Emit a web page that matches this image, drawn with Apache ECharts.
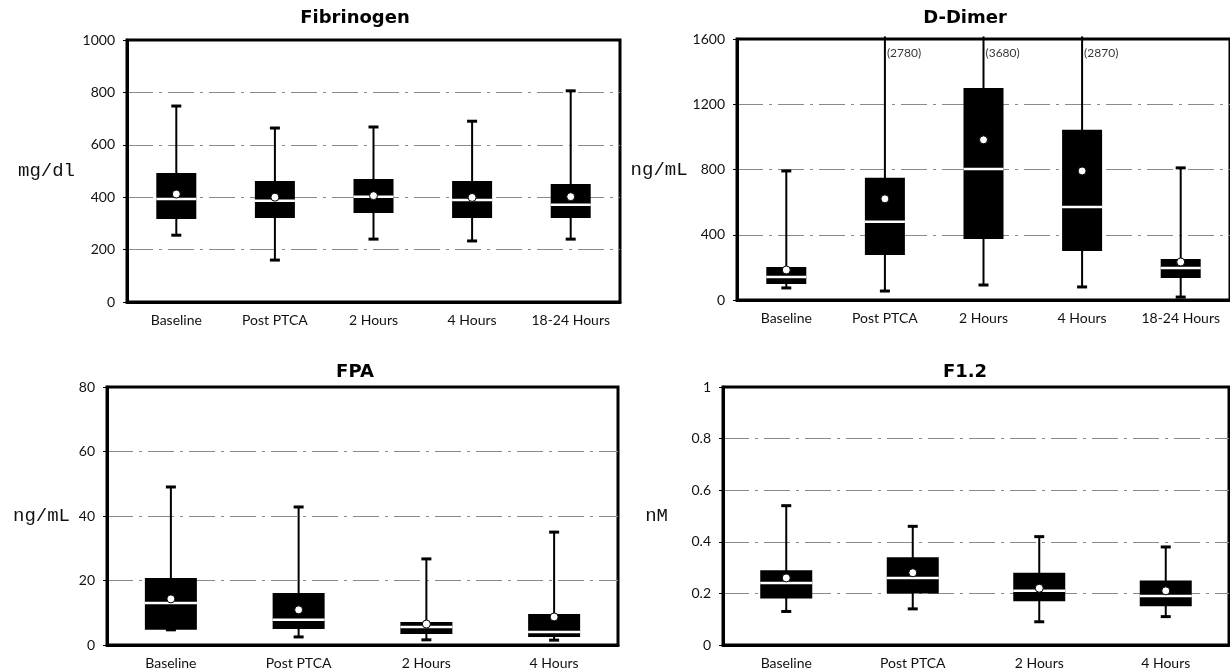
<!DOCTYPE html>
<html>
<head>
<meta charset="utf-8">
<script src="https://cdn.jsdelivr.net/npm/echarts@6/dist/echarts.min.js"></script>
<style>
html,body{margin:0;padding:0;background:#fff;}
#chart{width:1230px;height:672px;}
</style>
</head>
<body>
<div id="chart"></div>
<script>
// ---------- Data ----------
const catsFive = ['Baseline', 'Post PTCA', '2 Hours', '4 Hours', '18-24 Hours'];
const catsFour = ['Baseline', 'Post PTCA', '2 Hours', '4 Hours'];

// Fibrinogen (mg/dl)
const fibMin    = [255, 160, 240, 233, 240];
const fibQ1     = [317, 321, 340, 321, 321];
const fibMedian = [393, 386, 402, 389, 371];
const fibQ3     = [492, 462, 469, 462, 450];
const fibMax    = [748, 664, 668, 690, 806];
const fibMean   = [412, 400, 406, 399, 402];
const fibTicks  = [0, 200, 400, 600, 800, 1000];

// D-Dimer (ng/mL)
const ddMin    = [74, 55, 92, 80, 18];
const ddQ1     = [98, 276, 374, 301, 135];
const ddMedian = [141, 479, 803, 570, 196];
const ddQ3     = [202, 749, 1300, 1043, 252];
const ddMax    = [791, 2780, 3680, 2870, 810];
const ddMean   = [184, 620, 982, 791, 233];
const ddTicks  = [0, 400, 800, 1200, 1600];

// FPA (ng/mL)
const fpaMin    = [4.7, 2.5, 1.6, 1.5];
const fpaQ1     = [4.7, 5.0, 3.4, 2.5];
const fpaMedian = [13.0, 7.8, 5.6, 4.0];
const fpaQ3     = [20.8, 16.1, 7.1, 9.6];
const fpaMax    = [49.0, 42.8, 26.7, 35.0];
const fpaMean   = [14.3, 10.9, 6.5, 8.7];
const fpaTicks  = [0, 20, 40, 60, 80];

// F1.2 (nM)
const f12Min    = [0.13, 0.14, 0.09, 0.11];
const f12Q1     = [0.18, 0.20, 0.17, 0.15];
const f12Median = [0.24, 0.26, 0.21, 0.19];
const f12Q3     = [0.29, 0.34, 0.28, 0.25];
const f12Max    = [0.54, 0.46, 0.42, 0.38];
const f12Mean   = [0.26, 0.28, 0.22, 0.21];
const f12Ticks  = [0, 0.2, 0.4, 0.6, 0.8, 1];

// ---------- Helpers ----------
function boxData(mins, q1s, meds, q3s, maxs, axisMax) {
  return mins.map((v, i) => {
    const hi = maxs[i] > axisMax ? axisMax * 1.01 : maxs[i];
    const capped = maxs[i] > axisMax ? 0 : 1;
    return [i, v, q1s[i], meds[i], q3s[i], hi, capped];
  });
}

function boxRenderer(boxWidth) {
  return function (params, api) {
    const i = api.value(0);
    const lo = api.coord([i, api.value(1)]);
    const q1 = api.coord([i, api.value(2)]);
    const md = api.coord([i, api.value(3)]);
    const q3 = api.coord([i, api.value(4)]);
    const hi = api.coord([i, api.value(5)]);
    const hasTopCap = api.value(6) === 1;
    const cx = lo[0];
    const hw = boxWidth / 2;
    const capHalf = 5;
    const children = [
      { type: 'line', shape: { x1: cx, y1: lo[1], x2: cx, y2: hi[1] },
        style: { stroke: '#000', lineWidth: 2 } },
      { type: 'line', shape: { x1: cx - capHalf, y1: lo[1], x2: cx + capHalf, y2: lo[1] },
        style: { stroke: '#000', lineWidth: 3 } }
    ];
    if (hasTopCap) {
      children.push({ type: 'line', shape: { x1: cx - capHalf, y1: hi[1], x2: cx + capHalf, y2: hi[1] },
        style: { stroke: '#000', lineWidth: 3 } });
    }
    children.push({ type: 'rect', shape: { x: cx - hw, y: q3[1], width: boxWidth, height: q1[1] - q3[1] },
      style: { fill: '#000' } });
    children.push({ type: 'line', shape: { x1: cx - hw, y1: md[1], x2: cx + hw, y2: md[1] },
      style: { stroke: '#fff', lineWidth: 2.5 } });
    return { type: 'group', children: children };
  };
}

const gridLineStyle = { color: '#8a8a8a', width: 1, type: [26, 6, 3, 6] };
const tickFont = { fontFamily: 'Lato', fontSize: 14, color: '#111' };
const catFont = { fontFamily: 'Lato', fontSize: 14, color: '#111' };
const nameFont = { fontFamily: 'Liberation Mono', fontSize: 19, color: '#111' };
const titleFont = { fontFamily: 'DejaVu Sans', fontWeight: 'bold', fontSize: 18, color: '#000' };

function yAxisDef(idx, ticks, name, nameGap, decimals) {
  return {
    gridIndex: idx, type: 'value',
    min: ticks[0], max: ticks[ticks.length - 1],
    interval: ticks[1] - ticks[0],
    name: name, nameLocation: 'middle', nameRotate: 0, nameGap: nameGap,
    nameTextStyle: Object.assign({ align: 'right', verticalAlign: 'middle' }, nameFont),
    axisLine: { show: true, lineStyle: { color: '#000', width: 3 } },
    axisTick: { show: true, length: 4, lineStyle: { color: '#000', width: 1 } },
    axisLabel: Object.assign({ margin: 12,
      formatter: v => decimals ? (v === 0 || v === 1 ? String(v) : v.toFixed(1)) : String(v) }, tickFont),
    splitLine: { show: true, showMinLine: false, showMaxLine: false, lineStyle: gridLineStyle }
  };
}

function xAxisDef(idx, cats) {
  return {
    gridIndex: idx, type: 'category', data: cats, boundaryGap: true,
    axisLine: { show: true, lineStyle: { color: '#000', width: 3 } },
    axisTick: { show: false },
    axisLabel: Object.assign({ margin: 11, interval: 0 }, catFont),
    splitLine: { show: false }
  };
}

function meanSeries(idx, means) {
  return {
    type: 'scatter', xAxisIndex: idx, yAxisIndex: idx,
    data: means.map((v, i) => [i, v]),
    symbol: 'circle', symbolSize: 8, z: 10,
    itemStyle: { color: '#fff', borderColor: '#000', borderWidth: 1, opacity: 1 },
    silent: true
  };
}

const DD_MAX = ddTicks[ddTicks.length - 1];
const ddOverLabels = ddMax.map((v, i) => v > DD_MAX ? { value: [i, 1515], label: '(' + v + ')' } : null).filter(Boolean);

const chart = echarts.init(document.getElementById('chart'), null, { renderer: 'canvas' });
chart.setOption({
  animation: false,
  backgroundColor: '#fff',
  title: [
    { text: 'Fibrinogen', left: 350, top: 4, textAlign: 'center', textStyle: titleFont },
    { text: 'D-Dimer', left: 960, top: 4, textAlign: 'center', textStyle: titleFont },
    { text: 'FPA', left: 350, top: 358, textAlign: 'center', textStyle: titleFont },
    { text: 'F1.2', left: 960, top: 358, textAlign: 'center', textStyle: titleFont }
  ],
  grid: [
    { left: 127, top: 40, width: 493, height: 262, show: true, borderColor: '#000', borderWidth: 3, backgroundColor: 'transparent' },
    { left: 737, top: 39, width: 495, height: 261, show: true, borderColor: '#000', borderWidth: 3, backgroundColor: 'transparent' },
    { left: 107, top: 387, width: 511, height: 258, show: true, borderColor: '#000', borderWidth: 3, backgroundColor: 'transparent' },
    { left: 723, top: 387, width: 506, height: 258, show: true, borderColor: '#000', borderWidth: 3, backgroundColor: 'transparent' }
  ],
  xAxis: [
    xAxisDef(0, catsFive), xAxisDef(1, catsFive), xAxisDef(2, catsFour), xAxisDef(3, catsFour)
  ],
  yAxis: [
    yAxisDef(0, fibTicks, 'mg/dl', 52, false),
    yAxisDef(1, ddTicks, 'ng/mL', 45, false),
    yAxisDef(2, fpaTicks, 'ng/mL', 37, false),
    yAxisDef(3, f12Ticks, 'nM', 55, true)
  ],
  series: [
    { type: 'custom', xAxisIndex: 0, yAxisIndex: 0, renderItem: boxRenderer(40),
      data: boxData(fibMin, fibQ1, fibMedian, fibQ3, fibMax, fibTicks[fibTicks.length - 1]), z: 5 },
    meanSeries(0, fibMean),
    { type: 'custom', xAxisIndex: 1, yAxisIndex: 1, renderItem: boxRenderer(40),
      data: boxData(ddMin, ddQ1, ddMedian, ddQ3, ddMax, DD_MAX), z: 5 },
    meanSeries(1, ddMean),
    { type: 'scatter', xAxisIndex: 1, yAxisIndex: 1, symbolSize: 0, silent: true,
      data: ddOverLabels.map(d => ({ value: d.value, label: { formatter: d.label } })),
      label: { show: true, position: 'right', distance: 2, fontFamily: 'Lato', fontSize: 12, color: '#000' } },
    { type: 'custom', xAxisIndex: 2, yAxisIndex: 2, renderItem: boxRenderer(52),
      data: boxData(fpaMin, fpaQ1, fpaMedian, fpaQ3, fpaMax, fpaTicks[fpaTicks.length - 1]), z: 5 },
    meanSeries(2, fpaMean),
    { type: 'custom', xAxisIndex: 3, yAxisIndex: 3, renderItem: boxRenderer(52),
      data: boxData(f12Min, f12Q1, f12Median, f12Q3, f12Max, f12Ticks[f12Ticks.length - 1]), z: 5 },
    meanSeries(3, f12Mean)
  ]
});
</script>
</body>
</html>
